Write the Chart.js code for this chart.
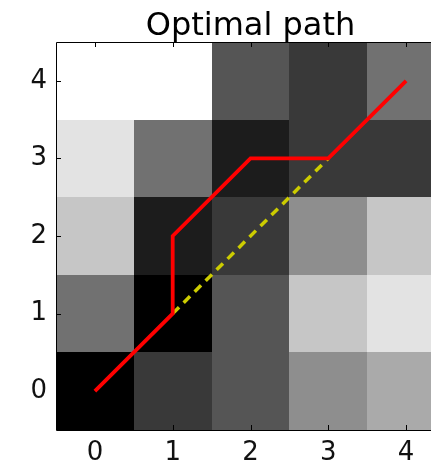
<!DOCTYPE html>
<html>
<head>
<meta charset="utf-8">
<script src="https://cdn.jsdelivr.net/npm/chart.js@4"></script>
<style>
  html, body { margin: 0; padding: 0; background: #fff; overflow: hidden; width: 431px; height: 466px; }
  #wrap { position: relative; width: 460px; height: 466px; }
</style>
</head>
<body>
<div id="wrap"><canvas id="c"></canvas></div>
<script>
// Cost grid (rows = y index 0..4, columns = x index 0..4), grey level 0 (black) .. 9 (white)
const rowY0 = [0, 2, 3, 5, 6];
const rowY1 = [4, 0, 3, 7, 8];
const rowY2 = [7, 1, 2, 5, 7];
const rowY3 = [8, 4, 1, 2, 2];
const rowY4 = [9, 9, 3, 2, 4];
const costGrid = [rowY0, rowY1, rowY2, rowY3, rowY4];
const costMax = 9;

// Warping path through the grid
const pathX = [0, 1, 1, 2, 3, 4];
const pathY = [0, 1, 2, 3, 3, 4];

// Straight diagonal between the two path corners
const diagX = [1, 3];
const diagY = [1, 3];

const xTicks = [0, 1, 2, 3, 4];
const yTicks = [0, 1, 2, 3, 4];
const titleText = 'Optimal path';

const toPoints = (xs, ys) => xs.map((x, i) => ({ x: x, y: ys[i] }));

const FONT = '"DejaVu Sans", sans-serif';

const gridCells = {
  id: 'gridCells',
  beforeDatasetsDraw(chart) {
    const { ctx, scales: { x, y }, chartArea } = chart;
    ctx.save();
    ctx.beginPath();
    ctx.rect(chartArea.left, chartArea.top, chartArea.right - chartArea.left, chartArea.bottom - chartArea.top);
    ctx.clip();
    costGrid.forEach((row, j) => {
      row.forEach((v, i) => {
        const g = Math.round(v / costMax * 255);
        const x0 = x.getPixelForValue(i - 0.5), x1 = x.getPixelForValue(i + 0.5);
        const y0 = y.getPixelForValue(j + 0.5), y1 = y.getPixelForValue(j - 0.5);
        ctx.fillStyle = `rgb(${g},${g},${g})`;
        ctx.fillRect(Math.round(x0), Math.round(y0), Math.round(x1) - Math.round(x0), Math.round(y1) - Math.round(y0));
      });
    });
    ctx.restore();
  },
  afterDraw(chart) {
    const { ctx, scales: { x, y }, chartArea } = chart;
    ctx.save();
    ctx.strokeStyle = '#000';
    ctx.lineWidth = 1;
    // frame
    ctx.beginPath();
    ctx.moveTo(chartArea.left + 0.5, chartArea.bottom + 0.5);
    ctx.lineTo(chartArea.left + 0.5, chartArea.top + 0.5);
    ctx.lineTo(chartArea.right + 0.5, chartArea.top + 0.5);
    ctx.lineTo(chartArea.right + 0.5, chartArea.bottom + 0.5);
    ctx.closePath();
    ctx.stroke();
    // inward tick marks
    const tl = 5;
    ctx.beginPath();
    xTicks.forEach(v => {
      const px = Math.round(x.getPixelForValue(v)) + 0.5;
      ctx.moveTo(px, chartArea.bottom); ctx.lineTo(px, chartArea.bottom - tl);
      ctx.moveTo(px, chartArea.top); ctx.lineTo(px, chartArea.top + tl);
    });
    yTicks.forEach(v => {
      const py = Math.round(y.getPixelForValue(v)) + 0.5;
      ctx.moveTo(chartArea.left, py); ctx.lineTo(chartArea.left + tl, py);
      ctx.moveTo(chartArea.right, py); ctx.lineTo(chartArea.right - tl, py);
    });
    ctx.stroke();
    // title centred over the plot area
    ctx.fillStyle = '#000';
    ctx.font = '32px ' + FONT;
    ctx.textAlign = 'center';
    ctx.textBaseline = 'alphabetic';
    ctx.fillText(titleText, (chartArea.left + chartArea.right) / 2, 35);
    ctx.restore();
  }
};

new Chart(document.getElementById('c'), {
  type: 'scatter',
  data: {
    datasets: [
      {
        data: toPoints(diagX, diagY),
        showLine: true,
        borderColor: 'rgb(204,204,0)',
        borderWidth: 3.5,
        borderDash: [9, 6.5],
        pointRadius: 0,
        order: 2
      },
      {
        data: toPoints(pathX, pathY),
        showLine: true,
        borderColor: '#ff0000',
        borderWidth: 3.8,
        pointRadius: 0,
        order: 1
      }
    ]
  },
  options: {
    responsive: true,
    maintainAspectRatio: false,
    animation: false,
    events: [],
    layout: { padding: { top: 42, right: 15, left: 0, bottom: 0 } },
    plugins: { legend: { display: false }, title: { display: false }, tooltip: { enabled: false } },
    scales: {
      x: {
        type: 'linear',
        min: -0.5,
        max: 4.5,
        afterBuildTicks: s => { s.ticks = xTicks.map(v => ({ value: v })); },
        afterFit: s => { s.height = 36; },
        border: { display: false },
        grid: { display: false, drawTicks: false },
        ticks: { font: { family: FONT, size: 26 }, color: '#111', padding: 8, maxRotation: 0 }
      },
      y: {
        type: 'linear',
        min: -0.5,
        max: 4.5,
        afterBuildTicks: s => { s.ticks = yTicks.map(v => ({ value: v })); },
        afterFit: s => { s.width = 56; },
        border: { display: false },
        grid: { display: false, drawTicks: false },
        ticks: { font: { family: FONT, size: 26 }, color: '#111', padding: 9 }
      }
    }
  },
  plugins: [gridCells]
});
</script>
</body>
</html>
